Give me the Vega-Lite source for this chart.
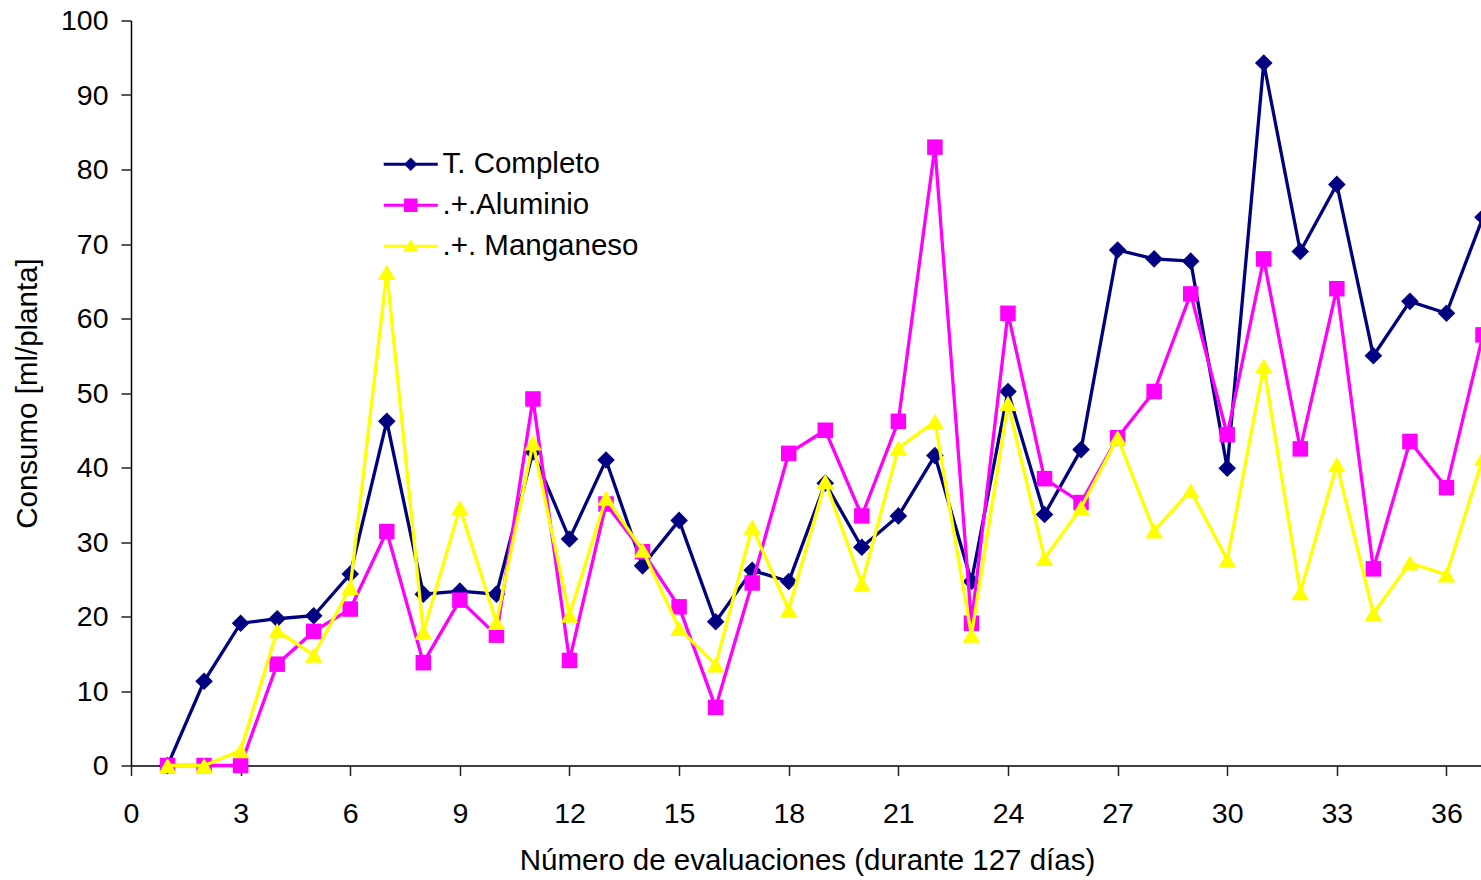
{
  "$schema": "https://vega.github.io/schema/vega-lite/v6.json",
  "width": 1352,
  "height": 745,
  "autosize": "none",
  "padding": {"left": 131, "top": 20.5, "right": 0, "bottom": 114.5},
  "background": "white",
  "config": {
    "view": {"stroke": null},
    "axis": {
      "grid": false,
      "domainColor": "black",
      "domainWidth": 1.5,
      "tickColor": "#222222",
      "tickWidth": 1.5,
      "tickSize": 10,
      "labelFlush": false,
      "labelFont": "Liberation Sans",
      "labelFontSize": 28.5,
      "labelColor": "black",
      "titleFont": "Liberation Sans",
      "titleFontSize": 29.5,
      "titleFontWeight": "normal",
      "titleColor": "black"
    },
    "legend": {
      "labelFont": "Liberation Sans",
      "labelFontSize": 29.5,
      "labelColor": "black",
      "labelLimit": 0
    }
  },
  "data": {
    "values": [
      {"n": 1, "s": "T. Completo", "v": 0},
      {"n": 2, "s": "T. Completo", "v": 11.3},
      {"n": 3, "s": "T. Completo", "v": 19.1},
      {"n": 4, "s": "T. Completo", "v": 19.7},
      {"n": 5, "s": "T. Completo", "v": 20.1},
      {"n": 6, "s": "T. Completo", "v": 25.7},
      {"n": 7, "s": "T. Completo", "v": 46.2},
      {"n": 8, "s": "T. Completo", "v": 23.0},
      {"n": 9, "s": "T. Completo", "v": 23.4},
      {"n": 10, "s": "T. Completo", "v": 23.0},
      {"n": 11, "s": "T. Completo", "v": 42.1},
      {"n": 12, "s": "T. Completo", "v": 30.4},
      {"n": 13, "s": "T. Completo", "v": 41.0},
      {"n": 14, "s": "T. Completo", "v": 26.8},
      {"n": 15, "s": "T. Completo", "v": 32.9},
      {"n": 16, "s": "T. Completo", "v": 19.3},
      {"n": 17, "s": "T. Completo", "v": 26.2},
      {"n": 18, "s": "T. Completo", "v": 24.7},
      {"n": 19, "s": "T. Completo", "v": 37.9},
      {"n": 20, "s": "T. Completo", "v": 29.3},
      {"n": 21, "s": "T. Completo", "v": 33.5},
      {"n": 22, "s": "T. Completo", "v": 41.6},
      {"n": 23, "s": "T. Completo", "v": 24.7},
      {"n": 24, "s": "T. Completo", "v": 50.2},
      {"n": 25, "s": "T. Completo", "v": 33.7},
      {"n": 26, "s": "T. Completo", "v": 42.4},
      {"n": 27, "s": "T. Completo", "v": 69.2},
      {"n": 28, "s": "T. Completo", "v": 68.0},
      {"n": 29, "s": "T. Completo", "v": 67.7},
      {"n": 30, "s": "T. Completo", "v": 39.9},
      {"n": 31, "s": "T. Completo", "v": 94.3},
      {"n": 32, "s": "T. Completo", "v": 69.0},
      {"n": 33, "s": "T. Completo", "v": 78.0},
      {"n": 34, "s": "T. Completo", "v": 55.0},
      {"n": 35, "s": "T. Completo", "v": 62.3},
      {"n": 36, "s": "T. Completo", "v": 60.7},
      {"n": 37, "s": "T. Completo", "v": 73.6},
      {"n": 1, "s": ".+.Aluminio", "v": 0},
      {"n": 2, "s": ".+.Aluminio", "v": 0},
      {"n": 3, "s": ".+.Aluminio", "v": 0},
      {"n": 4, "s": ".+.Aluminio", "v": 13.6},
      {"n": 5, "s": ".+.Aluminio", "v": 18.0},
      {"n": 6, "s": ".+.Aluminio", "v": 21.0},
      {"n": 7, "s": ".+.Aluminio", "v": 31.4},
      {"n": 8, "s": ".+.Aluminio", "v": 13.8},
      {"n": 9, "s": ".+.Aluminio", "v": 22.2},
      {"n": 10, "s": ".+.Aluminio", "v": 17.5},
      {"n": 11, "s": ".+.Aluminio", "v": 49.2},
      {"n": 12, "s": ".+.Aluminio", "v": 14.1},
      {"n": 13, "s": ".+.Aluminio", "v": 35.1},
      {"n": 14, "s": ".+.Aluminio", "v": 28.7},
      {"n": 15, "s": ".+.Aluminio", "v": 21.3},
      {"n": 16, "s": ".+.Aluminio", "v": 7.8},
      {"n": 17, "s": ".+.Aluminio", "v": 24.5},
      {"n": 18, "s": ".+.Aluminio", "v": 41.9},
      {"n": 19, "s": ".+.Aluminio", "v": 45.0},
      {"n": 20, "s": ".+.Aluminio", "v": 33.5},
      {"n": 21, "s": ".+.Aluminio", "v": 46.2},
      {"n": 22, "s": ".+.Aluminio", "v": 83.0},
      {"n": 23, "s": ".+.Aluminio", "v": 19.1},
      {"n": 24, "s": ".+.Aluminio", "v": 60.7},
      {"n": 25, "s": ".+.Aluminio", "v": 38.5},
      {"n": 26, "s": ".+.Aluminio", "v": 35.3},
      {"n": 27, "s": ".+.Aluminio", "v": 44.0},
      {"n": 28, "s": ".+.Aluminio", "v": 50.2},
      {"n": 29, "s": ".+.Aluminio", "v": 63.3},
      {"n": 30, "s": ".+.Aluminio", "v": 44.4},
      {"n": 31, "s": ".+.Aluminio", "v": 68.0},
      {"n": 32, "s": ".+.Aluminio", "v": 42.5},
      {"n": 33, "s": ".+.Aluminio", "v": 64.0},
      {"n": 34, "s": ".+.Aluminio", "v": 26.4},
      {"n": 35, "s": ".+.Aluminio", "v": 43.5},
      {"n": 36, "s": ".+.Aluminio", "v": 37.3},
      {"n": 37, "s": ".+.Aluminio", "v": 57.8},
      {"n": 1, "s": ".+. Manganeso", "v": 0},
      {"n": 2, "s": ".+. Manganeso", "v": 0},
      {"n": 3, "s": ".+. Manganeso", "v": 2.0},
      {"n": 4, "s": ".+. Manganeso", "v": 18.1},
      {"n": 5, "s": ".+. Manganeso", "v": 14.8},
      {"n": 6, "s": ".+. Manganeso", "v": 23.9},
      {"n": 7, "s": ".+. Manganeso", "v": 66.2},
      {"n": 8, "s": ".+. Manganeso", "v": 17.9},
      {"n": 9, "s": ".+. Manganeso", "v": 34.6},
      {"n": 10, "s": ".+. Manganeso", "v": 19.2},
      {"n": 11, "s": ".+. Manganeso", "v": 43.3},
      {"n": 12, "s": ".+. Manganeso", "v": 20.2},
      {"n": 13, "s": ".+. Manganeso", "v": 35.9},
      {"n": 14, "s": ".+. Manganeso", "v": 28.9},
      {"n": 15, "s": ".+. Manganeso", "v": 18.4},
      {"n": 16, "s": ".+. Manganeso", "v": 13.5},
      {"n": 17, "s": ".+. Manganeso", "v": 32.0},
      {"n": 18, "s": ".+. Manganeso", "v": 20.9},
      {"n": 19, "s": ".+. Manganeso", "v": 38.1},
      {"n": 20, "s": ".+. Manganeso", "v": 24.4},
      {"n": 21, "s": ".+. Manganeso", "v": 42.6},
      {"n": 22, "s": ".+. Manganeso", "v": 46.2},
      {"n": 23, "s": ".+. Manganeso", "v": 17.5},
      {"n": 24, "s": ".+. Manganeso", "v": 48.6},
      {"n": 25, "s": ".+. Manganeso", "v": 27.8},
      {"n": 26, "s": ".+. Manganeso", "v": 34.6},
      {"n": 27, "s": ".+. Manganeso", "v": 44.0},
      {"n": 28, "s": ".+. Manganeso", "v": 31.5},
      {"n": 29, "s": ".+. Manganeso", "v": 36.9},
      {"n": 30, "s": ".+. Manganeso", "v": 27.6},
      {"n": 31, "s": ".+. Manganeso", "v": 53.6},
      {"n": 32, "s": ".+. Manganeso", "v": 23.2},
      {"n": 33, "s": ".+. Manganeso", "v": 40.4},
      {"n": 34, "s": ".+. Manganeso", "v": 20.4},
      {"n": 35, "s": ".+. Manganeso", "v": 27.2},
      {"n": 36, "s": ".+. Manganeso", "v": 25.6},
      {"n": 37, "s": ".+. Manganeso", "v": 41.3}
    ]
  },
  "encoding": {
    "x": {
      "field": "n",
      "type": "quantitative",
      "scale": {"domain": [0, 37], "nice": false, "zero": false},
      "axis": {
        "values": [0, 3, 6, 9, 12, 15, 18, 21, 24, 27, 30, 33, 36],
        "title": "Número de evaluaciones (durante 127 días)",
        "labelPadding": 24,
        "titlePadding": 18
      }
    },
    "y": {
      "field": "v",
      "type": "quantitative",
      "scale": {"domain": [0, 100], "nice": false},
      "axis": {
        "values": [0, 10, 20, 30, 40, 50, 60, 70, 80, 90, 100],
        "title": "Consumo [ml/planta]",
        "labelPadding": 13,
        "titlePadding": 18
      }
    }
  },
  "layer": [
    {
      "transform": [{"filter": "datum.s === 'T. Completo'"}],
      "mark": {"type": "line", "color": "#000080", "strokeWidth": 3.3}
    },
    {
      "transform": [{"filter": "datum.s === 'T. Completo'"}],
      "mark": {"type": "point", "filled": true, "shape": "diamond", "size": 310, "color": "#000080", "opacity": 1}
    },
    {
      "transform": [{"filter": "datum.s === '.+.Aluminio'"}],
      "mark": {"type": "line", "color": "#FF00FF", "strokeWidth": 3.3}
    },
    {
      "transform": [{"filter": "datum.s === '.+.Aluminio'"}],
      "mark": {"type": "point", "filled": true, "shape": "square", "size": 240, "color": "#FF00FF", "opacity": 1}
    },
    {
      "transform": [{"filter": "datum.s === '.+. Manganeso'"}],
      "mark": {"type": "line", "color": "#FFFF00", "strokeWidth": 3.3}
    },
    {
      "transform": [{"filter": "datum.s === '.+. Manganeso'"}],
      "mark": {"type": "point", "filled": true, "shape": "triangle-up", "size": 310, "color": "#FFFF00", "opacity": 1}
    },
    {
      "transform": [{"filter": "false"}],
      "mark": {"type": "point", "filled": true, "opacity": 1},
      "encoding": {
        "color": {
          "field": "s",
          "type": "nominal",
          "scale": {
            "domain": ["T. Completo", ".+.Aluminio", ".+. Manganeso"],
            "range": ["#000080", "#FF00FF", "#FFFF00"]
          },
          "legend": {
            "title": null,
            "orient": "none",
            "legendX": 265,
            "legendY": 129,
            "padding": 0,
            "symbolSize": 784,
            "symbolStrokeWidth": 0,
            "labelOffset": 17,
            "labelLimit": 0,
            "rowPadding": 10
          }
        },
        "shape": {
          "field": "s",
          "type": "nominal",
          "scale": {
            "domain": ["T. Completo", ".+.Aluminio", ".+. Manganeso"],
            "range": [
              "M-1.93,-0.11H1.93V0.11H-1.93ZM0,-0.48L0.48,0L0,0.48L-0.48,0Z",
              "M-1.93,-0.11H1.93V0.11H-1.93ZM-0.48,-0.48H0.48V0.48H-0.48Z",
              "M-1.93,-0.11H1.93V0.11H-1.93ZM0,-0.48L0.56,0.4H-0.56Z"
            ]
          },
          "legend": {
            "title": null,
            "orient": "none",
            "legendX": 265,
            "legendY": 129,
            "padding": 0,
            "symbolSize": 784,
            "symbolStrokeWidth": 0,
            "labelOffset": 17,
            "labelLimit": 0,
            "rowPadding": 10
          }
        }
      }
    }
  ]
}
